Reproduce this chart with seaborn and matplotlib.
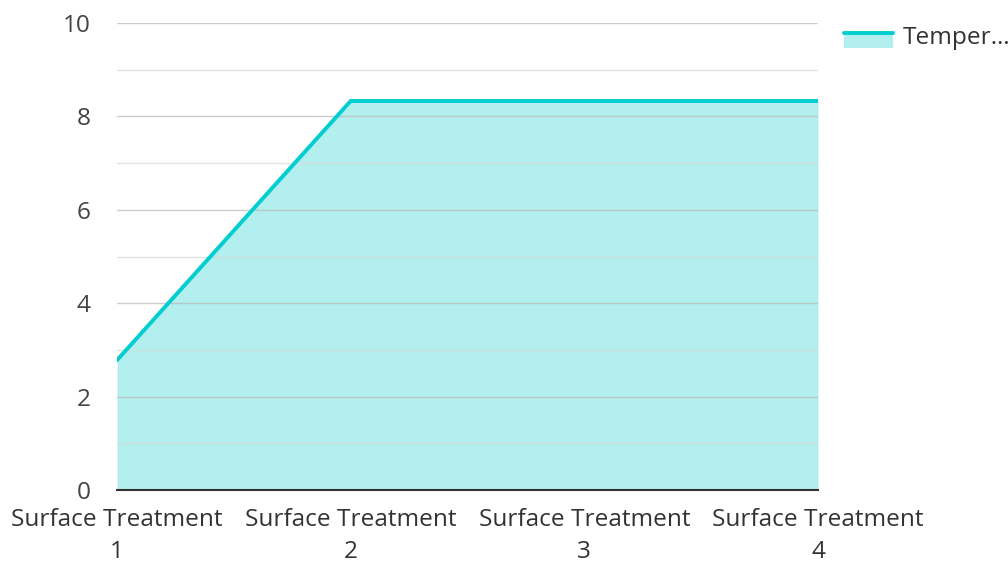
import matplotlib
matplotlib.use("Agg")
import matplotlib.pyplot as plt
import seaborn as sns
import pandas as pd
from matplotlib.lines import Line2D
from matplotlib.patches import Rectangle, Patch
from matplotlib.legend_handler import HandlerBase
from matplotlib.ticker import MultipleLocator

categories = ["Surface Treatment\n1", "Surface Treatment\n2", "Surface Treatment\n3", "Surface Treatment\n4"]
values = [2.78, 8.33, 8.33, 8.33]
series_name = "Temper\u2026"

sns.set_theme(style="white")
plt.rcParams['font.family'] = ['Open Sans', 'DejaVu Sans']

line_color = "#00CED1"
fill_color = "#B2EFEE"
FS = 17.6

df = pd.DataFrame({"x": range(len(categories)), "y": values})

fig = plt.figure(figsize=(10.08, 5.62), dpi=100)
ax = fig.add_axes([117/1008, (562-490)/562, (818-117)/1008, (490-23)/562])

ax.fill_between(df["x"], 0, df["y"], color=fill_color, linewidth=0, zorder=0.3)
sns.lineplot(data=df, x="x", y="y", ax=ax, color=line_color, linewidth=2.8, zorder=3)

ax.set_xlim(0, 3)
ax.set_ylim(0, 10)
ax.yaxis.set_major_locator(MultipleLocator(2))
ax.yaxis.set_minor_locator(MultipleLocator(1))
ax.set_axisbelow(True)
ax.grid(True, which="major", axis="y", color="#b8b8b8", linewidth=1, alpha=0.7, zorder=0.5)
ax.grid(True, which="minor", axis="y", color="#d8d8d8", linewidth=1, alpha=0.7, zorder=0.5)
ax.grid(False, axis="x")

ax.set_xticks(range(len(categories)))
ax.set_xticklabels(categories, fontsize=FS, color="#333333", linespacing=1.42)
ax.tick_params(axis="y", labelsize=FS, labelcolor="#444444", length=0, pad=19)
ax.tick_params(axis="x", length=0, pad=13)
ax.tick_params(axis="y", which="minor", length=0)
ax.set_xlabel("")
ax.set_ylabel("")
for s in ["top", "right", "left"]:
    ax.spines[s].set_visible(False)
ax.spines["bottom"].set_color("#333333")
ax.spines["bottom"].set_linewidth(1.5)
ax.spines["bottom"].set_zorder(4)


class AreaHandler(HandlerBase):
    def create_artists(self, legend, orig_handle, xdescent, ydescent, width, height, fontsize, trans):
        dy = -3.6
        y0 = -ydescent + dy
        rect = Rectangle((-xdescent, y0), width, height, facecolor=fill_color,
                         edgecolor="none", transform=trans)
        line = Line2D([-xdescent, -xdescent + width], [y0 + height, y0 + height],
                      color=line_color, linewidth=2.8, transform=trans)
        return [rect, line]


handle = Patch(facecolor=fill_color)
leg = fig.legend([handle], [series_name], loc="upper left",
                 bbox_to_anchor=(822/1008, 1 - 4/562), frameon=False,
                 fontsize=FS, handlelength=2.0, handleheight=0.55, handletextpad=0.4,
                 handler_map={Patch: AreaHandler()})
for t in leg.get_texts():
    t.set_color("#333333")

fig.savefig("out.png", dpi=100)
